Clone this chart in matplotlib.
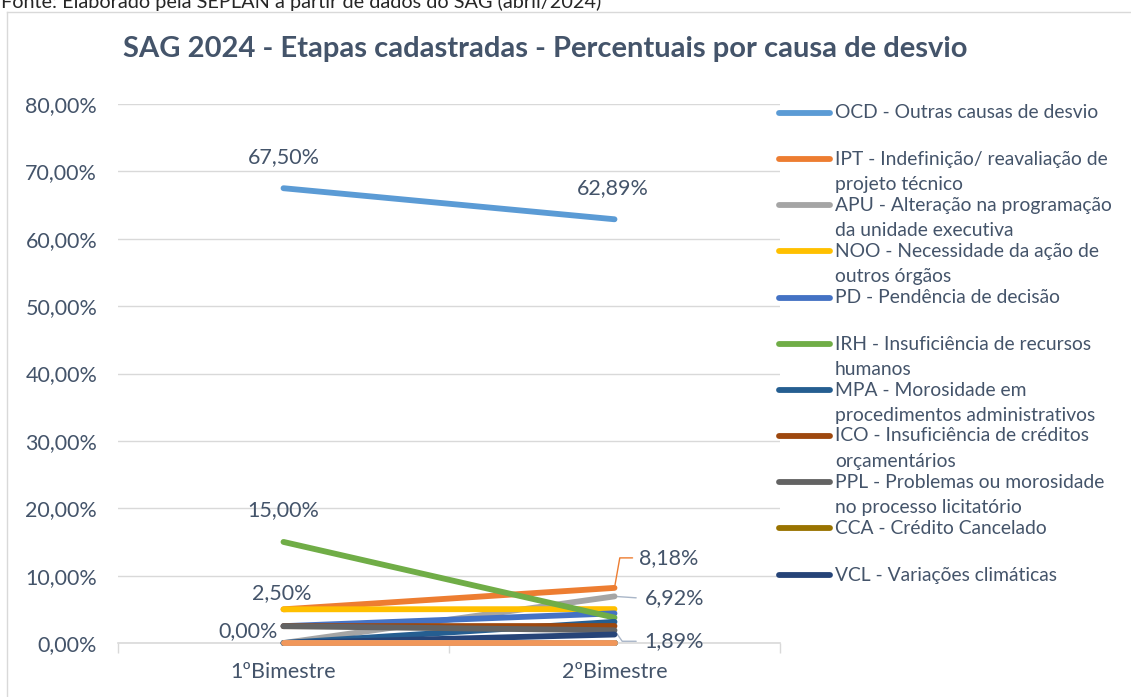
import matplotlib
matplotlib.use('Agg')
import matplotlib.pyplot as plt
from matplotlib.lines import Line2D

plt.rcParams['font.family'] = ['Lato', 'DejaVu Sans']

W, H = 1131, 697
TEXT = '#44546A'
GRID = '#D9D9D9'

categories = ['1ºBimestre', '2ºBimestre']

# series in Excel drawing order (later ones are drawn on top)
names = [
    'OCD - Outras causas de desvio',
    'IPT - Indefinição/ reavaliação de\nprojeto técnico',
    'APU - Alteração na programação\nda unidade executiva',
    'NOO - Necessidade da ação de\noutros órgãos',
    'PD - Pendência de decisão',
    'IRH - Insuficiência de recursos\nhumanos',
    'MPA - Morosidade em\nprocedimentos administrativos',
    'ICO - Insuficiência de créditos\norçamentários',
    'PPL - Problemas ou morosidade\nno processo licitatório',
    'CCA - Crédito Cancelado',
    'VCL - Variações climáticas',
    None, None, None,
]
bim1 = [67.50, 5.00, 0.00, 5.00, 2.50, 15.00, 0.00, 2.50, 2.50, 0.00, 0.00, 0.00, 0.00, 0.00]
bim2 = [62.89, 8.18, 6.92, 5.03, 4.40, 3.77, 3.14, 2.52, 1.89, 0.00, 1.26, 0.00, 0.00, 0.00]
colors = ['#5B9BD5', '#ED7D31', '#A5A5A5', '#FFC000', '#4472C4', '#70AD47',
          '#255E91', '#9E480E', '#636363', '#997300', '#264478',
          '#43682B', '#7CAFDD', '#F1975A']

yticks = [0, 10, 20, 30, 40, 50, 60, 70, 80]
ytick_labels = ['0,00%', '10,00%', '20,00%', '30,00%', '40,00%',
                '50,00%', '60,00%', '70,00%', '80,00%']


def fx(px):
    return px / W


def fy(py):
    return 1 - py / H


fig = plt.figure(figsize=(W / 100, H / 100), dpi=100)
ax = fig.add_axes([fx(118), fy(643), fx(780) - fx(118), fy(104) - fy(643)])

x = list(range(len(categories)))
for i in range(len(names)):
    ax.plot(x, [bim1[i], bim2[i]], color=colors[i], lw=4.2,
            solid_capstyle='round', clip_on=False, zorder=3 + i * 0.01)

ax.set_xlim(-0.5, 1.5)
ax.set_ylim(0, 80)
ax.set_yticks(yticks)
ax.set_yticklabels(ytick_labels)
ax.set_xticks(x)
ax.set_xticklabels(categories)
ax.set_xticks([-0.5, 0.5, 1.5], minor=True)
ax.tick_params(axis='x', which='major', length=0, pad=14, labelsize=15.5, labelcolor=TEXT)
ax.tick_params(axis='x', which='minor', length=7, color=GRID, width=1)
ax.tick_params(axis='y', length=0, pad=15, labelsize=15.5, labelcolor=TEXT)
ax.grid(axis='y', color=GRID, lw=1)
ax.set_axisbelow(True)
for s in ['top', 'right', 'left']:
    ax.spines[s].set_visible(False)
ax.spines['bottom'].set_color(GRID)
ax.spines['bottom'].set_linewidth(1.2)

# data labels
lab = dict(fontsize=15.5, color=TEXT, textcoords='offset pixels', va='center')
ax.annotate('67,50%', (0, bim1[0]), xytext=(0, 31), ha='center', **lab)
ax.annotate('62,89%', (1, bim2[0]), xytext=(-2, 31), ha='center', **lab)
ax.annotate('15,00%', (0, bim1[5]), xytext=(0, 32), ha='center', **lab)
ax.annotate('2,50%', (0, bim1[7]), xytext=(-2, 33), ha='center', **lab)
ax.annotate('0,00%', (0, bim1[2]), xytext=(-35, 12), ha='center', **lab)
ax.annotate('8,18%', (1, bim2[1]), xytext=(25, 30), ha='left', **lab,
            arrowprops=dict(arrowstyle='-', color=colors[1], lw=1, shrinkA=3, shrinkB=2,
                            relpos=(0, 0.5),
                            connectionstyle='angle,angleA=180,angleB=80,rad=0'))
ax.annotate('6,92%', (1, bim2[2]), xytext=(30, -2), ha='left', **lab,
            arrowprops=dict(arrowstyle='-', color='#A9B6C8', lw=1, shrinkA=4, shrinkB=2,
                            relpos=(0, 0.5)))
ax.annotate('1,89%', (1, bim2[8]), xytext=(30, -11), ha='left', **lab,
            arrowprops=dict(arrowstyle='-', color='#A9B6C8', lw=1, shrinkA=4, shrinkB=2,
                            relpos=(0, 0.5),
                            connectionstyle='angle,angleA=180,angleB=-55,rad=0'))

# legend (drawn by hand so wrapped labels line up like in Excel)
leg_y = [113, 159, 205, 251, 298, 344, 390, 436, 482, 528, 575]
for i, y in enumerate(leg_y):
    fig.add_artist(Line2D([fx(779), fx(830)], [fy(y), fy(y)], color=colors[i], lw=4.2,
                          solid_capstyle='round'))
    for k, line in enumerate(names[i].split('\n')):
        fig.text(fx(835), fy(y + k * 25.5), line, fontsize=13.9, color=TEXT, va='center')

fig.text(fx(545), fy(49), 'SAG 2024 - Etapas cadastradas - Percentuais por causa de desvio',
         fontsize=21, fontweight='bold', color=TEXT, ha='center', va='center')
fig.text(fx(1), fy(2), 'Fonte: Elaborado pela SEPLAN a partir de dados do SAG (abril/2024)',
         fontsize=14.3, color='#262626', ha='left', va='center')

# chart area border
fig.add_artist(Line2D([fx(7), fx(1131)], [fy(12), fy(12)], color=GRID, lw=1))
fig.add_artist(Line2D([fx(7), fx(7)], [fy(12), fy(697)], color=GRID, lw=1))

fig.savefig('out.png', dpi=100)
